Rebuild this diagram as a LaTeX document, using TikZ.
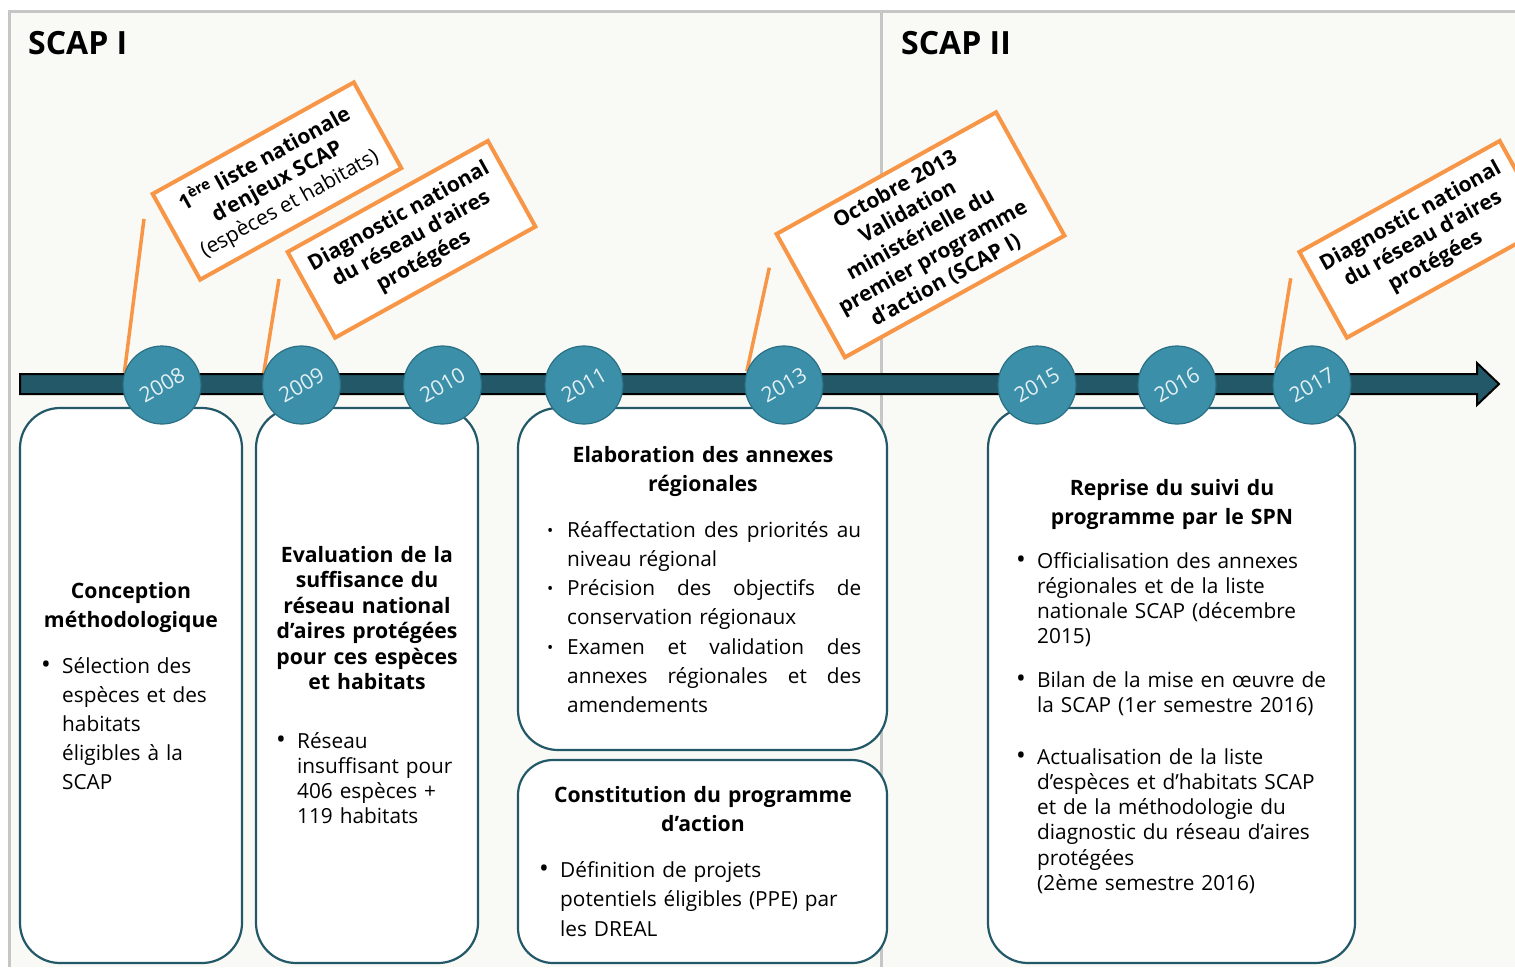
\documentclass[tikz,border=0pt]{standalone}
\usepackage{fontspec}
\setmainfont{Open Sans}
\usepackage{graphicx}
\definecolor{bgc}{RGB}{249,249,245}
\definecolor{framec}{RGB}{198,198,198}
\definecolor{tdark}{RGB}{34,88,104}
\definecolor{tmid}{RGB}{59,143,168}
\definecolor{tedge}{RGB}{42,112,133}
\definecolor{orng}{RGB}{247,150,70}
\definecolor{yrtxt}{RGB}{228,240,244}
\newcommand{\bul}{\leavevmode\llap{\makebox[21pt][l]{\raisebox{-0.5pt}{\scalebox{1.25}{\textbullet}}}}}
\newcommand{\sbul}{\leavevmode\llap{\makebox[20pt][l]{\raisebox{1pt}{\scalebox{0.8}{\textbullet}}}}}
\newcommand{\jl}[1]{\leavevmode\hbox to 294pt{#1}}
\pgfdeclarelayer{back}
\pgfdeclarelayer{mid}
\pgfsetlayers{back,mid,main}
\begin{document}
\begin{tikzpicture}[x=1pt,y=-1pt,
  panel/.style={draw=tdark, line width=2.2pt, fill=white, rounded corners=40pt, inner sep=0pt},
  yearc/.style={circle, fill=tmid, draw=tedge, line width=1.2pt, minimum size=78pt, inner sep=0pt},
  yeartxt/.style={text=yrtxt, font=\fontsize{21pt}{21pt}\selectfont, rotate=30, inner sep=0pt},
  callout/.style={draw=orng, line width=4pt, fill=white, rotate=29, align=center, inner sep=0pt, font=\bfseries\fontsize{21pt}{#1}\selectfont},
  conn/.style={draw=orng, line width=3.5pt},
  head/.style={inner sep=0pt, anchor=base, text width=360pt, align=center, font=\bfseries\fontsize{21.2pt}{#1}\selectfont},
  body/.style={inner sep=0pt, anchor=base west, text width=340pt, align=left, font=\fontsize{20.8pt}{#1}\selectfont},
  title/.style={inner sep=0pt, anchor=base west, font=\bfseries\fontsize{32pt}{32pt}\selectfont}
]
\useasboundingbox (0,0) rectangle (1515,967);
\clip (0,0) rectangle (1515,967);

\begin{pgfonlayer}{back}
\fill[bgc] (9,11) rectangle (1515,967);
\draw[framec, line width=3pt] (9,967) -- (9,11) -- (1515,11);
\draw[framec, line width=3pt] (881,11) -- (881,967);

% panels
\node[panel, minimum width=222pt, minimum height=555pt] (b1) at (131,685.5) {};
\node[panel, minimum width=222pt, minimum height=555pt] (b2) at (367,685.5) {};
\node[panel, minimum width=369pt, minimum height=342pt] (b3) at (702.5,579) {};
\node[panel, rounded corners=35pt, minimum width=369pt, minimum height=203pt] (b4) at (702.5,861.5) {};
\node[panel, minimum width=367pt, minimum height=555pt] (b5) at (1171.5,685.5) {};

% timeline
\draw[fill=tdark, draw=black, line width=2pt, line join=miter]
  (20,374) -- (1477,374) -- (1477,363) -- (1499,384) -- (1477,405) -- (1477,394) -- (20,394) -- cycle;
\end{pgfonlayer}

% titles
\node[title] (t1) at (28,54) {SCAP I};
\node[title] (t2) at (901,54) {SCAP II};

% year circles
\foreach \yr/\xx in {2008/162, 2009/301.5, 2010/442.5, 2011/584, 2013/784, 2015/1037, 2016/1177, 2017/1312}{
  \node[yearc] (y\yr) at (\xx,385) {};
  \node[yeartxt] (yt\yr) at (\xx,385) {\yr};
}

% callouts
\node[callout=25.5pt, minimum width=230pt, minimum height=98pt] (c1) at (277,181)
  {1\textsuperscript{ère} liste nationale\\d’enjeux SCAP\\{\mdseries (espèces et habitats)}};
\node[callout=25.5pt, minimum width=229pt, minimum height=98pt] (c2) at (411.5,239.3)
  {Diagnostic national\\du réseau d’aires\\protégées};
\node[callout=26pt, minimum width=251pt, minimum height=141pt] (c3) at (920.5,234.8)
  {Octobre 2013\\Validation\\ministérielle du\\premier programme\\d’action (SCAP I)};
\node[callout=25.5pt, minimum width=229pt, minimum height=98pt] (c4) at (1423.3,239.3)
  {Diagnostic national\\du réseau d’aires\\protégées};

% connectors
\coordinate (e1) at (144,219);
\coordinate (e2) at (279,279);
\coordinate (e3) at (769.3,267.7);
\coordinate (e4) at (1290.7,278.3);
\begin{pgfonlayer}{mid}
\draw[conn] (e1) -- (y2008.162);
\draw[conn] (e2) -- (y2009.163);
\draw[conn] (e3) -- (y2013.160);
\draw[conn] (e4) -- (y2017.155);
\end{pgfonlayer}

% box 1
\node[head=29pt] (h1) at (131,598) {Conception\\méthodologique};
\node[body=29pt] (l1) at (62,673) {\bul Sélection des\\espèces et des\\habitats\\éligibles à la\\SCAP};

% box 2
\node[head=25.5pt] (h2) at (367,562) {Evaluation de la\\suffisance du\\réseau national\\d’aires protégées\\pour ces espèces\\et habitats};
\node[body=25pt] (l2) at (297,748) {\bul Réseau\\insuffisant pour\\406 espèces +\\119 habitats};

% box 3
\node[head=29pt] (h3) at (703,462) {Elaboration des annexes\\régionales};
\node[body=29.3pt] (l3a) at (567,537) {\sbul\jl{Réaffectation\hfill des\hfill priorités\hfill au}\\niveau régional};
\node[body=29.3pt] (l3b) at (567,595.6) {\sbul\jl{Précision\hfill des\hfill objectifs\hfill de}\\conservation régionaux};
\node[body=29.3pt] (l3c) at (567,654.2) {\sbul\jl{Examen\hfill et\hfill validation\hfill des}\\\jl{annexes\hfill régionales\hfill et\hfill des}\\amendements};

% box 4
\node[head=29pt] (h4) at (703,802) {Constitution du programme\\d’action};
\node[body=29.5pt] (l4) at (560,877) {\bul Définition de projets\\potentiels éligibles (PPE) par\\les DREAL};

% box 5
\node[head=29pt] (h5) at (1172,495) {Reprise du suivi du\\programme par le SPN};
\node[body=25.3pt] (l5a) at (1037,568) {\bul Officialisation des annexes\\régionales et de la liste\\nationale SCAP (décembre\\2015)};
\node[body=25.3pt] (l5b) at (1037,687) {\bul Bilan de la mise en œuvre de\\la SCAP (1er semestre 2016)};
\node[body=25.3pt] (l5c) at (1037,764) {\bul Actualisation de la liste\\d’espèces et d’habitats SCAP\\et de la méthodologie du\\diagnostic du réseau d’aires\\protégées\\(2ème semestre 2016)};
\end{tikzpicture}
\end{document}
